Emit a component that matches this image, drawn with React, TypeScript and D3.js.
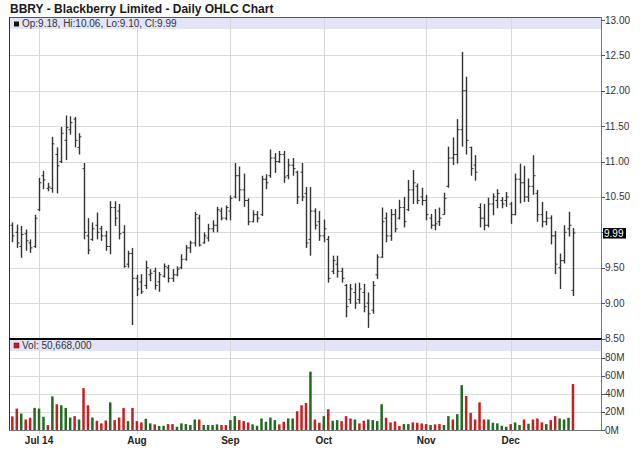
import * as d3 from 'd3';

// bar index of the first trading day of each month shown on the axis
const MONTH_TICKS = [
  { label: 'Jul 14', idx: 6 },
  { label: 'Aug', idx: 28 },
  { label: 'Sep', idx: 49 },
  { label: 'Oct', idx: 70 },
  { label: 'Nov', idx: 93 },
  { label: 'Dec', idx: 112 },
];

const PRICE_TICKS = [13, 12.5, 12, 11.5, 11, 10.5, 10, 9.5, 9, 8.5];
const VOL_TICKS = [0, 20, 40, 60, 80];

// daily OHLC, Jun 23 - Dec 19
const OPEN = [
  10.10, 10.00, 9.80, 9.98, 9.85, 9.80, 10.32, 10.80, 10.62, 10.62,
  11.10, 11.00, 11.30, 11.45, 11.60, 11.20, 10.90, 9.95, 9.90, 10.10,
  10.05, 9.95, 9.80, 10.35, 10.30, 10.00, 9.55, 9.70, 9.35, 9.30,
  9.25, 9.40, 9.45, 9.30, 9.38, 9.50, 9.35, 9.40, 9.50, 9.62,
  9.78, 9.85, 10.20, 9.85, 9.92, 10.05, 10.10, 10.30, 10.20, 10.30,
  10.50, 10.80, 10.60, 10.45, 10.15, 10.25, 10.25, 10.75, 10.80, 11.05,
  11.00, 11.10, 10.80, 10.95, 10.85, 10.85, 10.55, 9.90, 10.30, 10.15,
  9.95, 9.90, 9.45, 9.55, 9.45, 9.25, 9.05, 9.15, 9.05, 9.15,
  9.00, 8.90, 9.40, 9.65, 10.20, 9.95, 10.25, 10.20, 10.35, 10.32,
  10.60, 10.65, 10.50, 10.45, 10.20, 10.10, 10.15, 10.25, 10.65, 11.05,
  11.10, 11.45, 12.00, 11.20, 10.95, 10.35, 10.20, 10.10, 10.40, 10.45,
  10.45, 10.45, 10.40, 10.25, 10.75, 10.70, 10.50, 10.65, 10.55, 10.25,
  10.15, 10.20, 9.95, 9.50, 9.60, 10.05, 9.18,
];
const HIGH = [
  10.14, 10.11, 10.09, 10.04, 9.90, 10.25, 10.77, 10.87, 10.70, 11.35,
  11.20, 11.49, 11.65, 11.64, 11.63, 11.40, 10.98, 10.20, 10.14, 10.28,
  10.09, 10.02, 10.44, 10.44, 10.40, 10.10, 9.74, 9.78, 9.40, 9.41,
  9.60, 9.48, 9.50, 9.44, 9.56, 9.54, 9.48, 9.52, 9.69, 9.82,
  9.88, 10.29, 10.25, 10.00, 10.12, 10.17, 10.36, 10.35, 10.38, 10.52,
  10.98, 10.93, 10.83, 10.48, 10.31, 10.30, 10.80, 10.82, 11.17, 11.12,
  11.15, 11.15, 11.04, 11.05, 10.87, 10.98, 10.64, 10.64, 10.34, 10.30,
  10.18, 9.95, 9.67, 9.67, 9.50, 9.27, 9.27, 9.28, 9.29, 9.27,
  9.15, 9.31, 9.69, 10.35, 10.28, 10.33, 10.33, 10.46, 10.50, 10.74,
  10.88, 10.69, 10.63, 10.53, 10.26, 10.33, 10.35, 10.56, 11.21, 11.34,
  11.60, 12.55, 12.20, 11.21, 11.09, 10.41, 10.40, 10.49, 10.55, 10.61,
  10.50, 10.57, 10.43, 10.83, 10.97, 10.94, 10.76, 11.09, 10.60, 10.43,
  10.30, 10.24, 10.02, 9.70, 10.10, 10.29, 10.06,
];
const LOW = [
  9.86, 9.78, 9.64, 9.74, 9.71, 9.78, 10.30, 10.61, 10.58, 10.56,
  10.55, 10.98, 11.02, 11.38, 11.20, 11.10, 9.90, 9.69, 9.88, 9.90,
  9.88, 9.74, 9.69, 10.09, 9.90, 9.50, 9.50, 8.69, 9.10, 9.13,
  9.20, 9.31, 9.19, 9.16, 9.36, 9.29, 9.30, 9.38, 9.48, 9.60,
  9.71, 9.80, 9.80, 9.84, 9.87, 10.00, 10.00, 10.17, 10.17, 10.17,
  10.48, 10.44, 10.36, 10.10, 10.14, 10.14, 10.23, 10.61, 10.77, 10.84,
  10.98, 10.70, 10.75, 10.80, 10.40, 10.44, 9.78, 9.67, 10.04, 9.88,
  9.86, 9.29, 9.41, 9.36, 9.29, 8.80, 8.99, 8.92, 8.99, 8.87,
  8.65, 8.85, 9.34, 9.64, 9.86, 9.88, 10.00, 10.18, 10.07, 10.30,
  10.40, 10.40, 10.38, 10.17, 10.05, 10.03, 10.09, 10.25, 10.63, 10.95,
  10.97, 11.21, 11.10, 10.80, 10.73, 10.07, 10.03, 10.07, 10.24, 10.34,
  10.34, 10.36, 10.12, 10.24, 10.41, 10.43, 10.43, 10.53, 10.15, 10.07,
  10.10, 9.83, 9.41, 9.20, 9.56, 9.94, 9.10,
];
const CLOSE = [
  9.95, 9.85, 9.97, 9.88, 9.78, 10.20, 10.70, 10.74, 10.64, 11.25,
  10.94, 11.40, 11.48, 11.55, 11.30, 11.35, 10.00, 9.75, 10.05, 10.00,
  9.95, 9.80, 10.35, 10.20, 9.98, 9.52, 9.70, 9.35, 9.20, 9.16,
  9.50, 9.42, 9.25, 9.40, 9.52, 9.35, 9.40, 9.48, 9.62, 9.78,
  9.85, 10.25, 9.82, 9.95, 10.05, 10.10, 10.32, 10.20, 10.35, 10.48,
  10.80, 10.60, 10.45, 10.15, 10.25, 10.20, 10.75, 10.70, 11.05, 11.00,
  11.10, 10.78, 10.95, 10.90, 10.50, 10.50, 9.85, 10.30, 10.10, 9.95,
  10.05, 9.35, 9.60, 9.45, 9.35, 8.95, 9.20, 9.00, 9.20, 8.95,
  8.85, 9.25, 9.65, 10.15, 9.95, 10.25, 10.05, 10.35, 10.15, 10.60,
  10.70, 10.45, 10.45, 10.25, 10.10, 10.12, 10.20, 10.48, 11.05, 11.10,
  11.45, 12.00, 11.30, 10.90, 10.85, 10.20, 10.10, 10.40, 10.50, 10.55,
  10.40, 10.50, 10.25, 10.75, 10.70, 10.50, 10.65, 10.80, 10.25, 10.15,
  10.20, 9.95, 9.55, 9.60, 10.00, 10.10, 9.99,
];

// volume in millions, and colour of each volume bar (g = up, r = down)
const VOLUME = [
  15, 23.6, 18.2, 11.6, 13.5, 24.4, 23.6, 14.5, 5.5, 37.1,
  28.4, 27.3, 24.4, 13.8, 15.3, 11.6, 46.2, 27.3, 13.8, 10.2,
  7.3, 10.5, 30.5, 10.9, 13.8, 24.4, 9.8, 24.4, 9.8, 8.4,
  12.4, 7.3, 6.2, 4.4, 4.7, 6.5, 6.5, 3.6, 7.3, 6.5,
  5.5, 11.6, 11.6, 5.5, 5.5, 5.5, 6.2, 5.5, 5.5, 10.9,
  15.3, 10.9, 9.8, 8.4, 6.2, 4.7, 12.7, 9.1, 13.8, 10.9,
  6.2, 9.1, 12.7, 12.7, 20.7, 27.3, 29.8, 64.4, 11.6, 8,
  15.3, 22.9, 10.2, 10.9, 9.8, 15.3, 12.7, 11.6, 7.3, 10.2,
  11.6, 10.9, 9.8, 28.4, 13.5, 8.4, 9.5, 4.4, 6.5, 6.5,
  8.4, 8.0, 7.3, 6.5, 5.5, 6.2, 6.5, 5.5, 15.3, 11.6,
  17.5, 49.5, 37.5, 18.9, 11.6, 30.5, 11.6, 11.6, 8.0, 7.3,
  4.7, 3.6, 6.5, 8.4, 5.5, 11.6, 6.9, 11.6, 12.7, 8.4,
  6.5, 10.9, 15.3, 12.7, 11.6, 13.5, 50.668,
];
const VOL_DIR = (
  'rrgrrgggrg' + 'rgggrgrrgr' + 'rrgrrrgrrr' + 'ggrggrrggg' + 'ggrggggrrg' +
  'grrrgggggg' + 'rrggrrrgrr' + 'grggrrrgrr' + 'ggggrrrrgg' + 'rrrrgrrggr' +
  'ggrrrrrggg' + 'ggrggrgrrr' + 'grrgggr'
).split('');

const W = 640;
const H = 468;
const LEFT = 9;
const RIGHT = 601;
const FONT = "'Liberation Sans', Arial, sans-serif";

export default function App() {
  const last = OPEN.length - 1;

  const x = d3.scaleLinear().domain([-0.75, 132.3]).range([LEFT, RIGHT]);
  const y = d3.scaleLinear().domain([8.5, 13]).range([338.5, 20]);
  const yv = d3.scaleLinear().domain([0, 80]).range([430, 357.5]);

  const fmtVol = d3.format(',');
  const px = (i: number) => Math.round(x(i)) + 0.5;
  const lastY = y(CLOSE[last]);

  return (
    <svg width={W} height={H} style={{ position: 'absolute', left: 0, top: 0, background: '#fff' }}
      fontFamily={FONT}>
      <rect x={0} y={0} width={W} height={H} fill="#fff" />

      <text x={10} y={13} fontSize={12} fontWeight="bold" fill="#1a1a1a">
        BBRY - Blackberry Limited - Daily OHLC Chart
      </text>

      {/* legend bands */}
      <rect x={LEFT} y={18} width={RIGHT - LEFT} height={11} fill="#e4e4f8" />
      <rect x={LEFT} y={339.5} width={RIGHT - LEFT} height={11.5} fill="#e4e4f8" />

      {/* horizontal grid */}
      {PRICE_TICKS.filter(t => t > 8.5 && t < 13).map(t => (
        <line key={'pg' + t} x1={LEFT} x2={RIGHT} y1={Math.round(y(t)) + 0.5} y2={Math.round(y(t)) + 0.5}
          stroke="#dcdcdc" />
      ))}
      {VOL_TICKS.filter(t => t > 0).map(t => (
        <line key={'vg' + t} x1={LEFT} x2={RIGHT} y1={Math.round(yv(t)) + 0.5} y2={Math.round(yv(t)) + 0.5}
          stroke="#dcdcdc" />
      ))}

      {/* vertical month grid */}
      {MONTH_TICKS.map(m => (
        <line key={'mg' + m.label} x1={px(m.idx)} x2={px(m.idx)} y1={18} y2={434} stroke="#d8d8d8" />
      ))}

      {/* price OHLC bars */}
      <g stroke="#333" strokeWidth={1.4}>
        {OPEN.map((o, i) => {
          const cx = px(i);
          return (
            <g key={'b' + i}>
              <line x1={cx} x2={cx} y1={y(HIGH[i])} y2={y(LOW[i])} />
              <line x1={cx - 2} x2={cx} y1={y(o)} y2={y(o)} strokeWidth={1} />
              <line x1={cx} x2={cx + 2} y1={y(CLOSE[i])} y2={y(CLOSE[i])} strokeWidth={1} />
            </g>
          );
        })}
      </g>

      {/* volume bars */}
      {VOLUME.map((v, i) => (
        <rect key={'v' + i} x={x(i) - 1.25} width={2.5} y={yv(v)} height={yv(0) - yv(v)}
          fill={VOL_DIR[i] === 'g' ? '#1f6b1f' : '#c81e1e'} />
      ))}

      {/* frame */}
      <line x1={LEFT} x2={RIGHT} y1={17.5} y2={17.5} stroke="#555" />
      <line x1={LEFT + 0.5} x2={LEFT + 0.5} y1={17} y2={431} stroke="#333" />
      <line x1={RIGHT + 0.5} x2={RIGHT + 0.5} y1={17} y2={431} stroke="#777" />
      <line x1={LEFT} x2={RIGHT} y1={430.5} y2={430.5} stroke="#777" />
      <line x1={LEFT} x2={RIGHT + 1} y1={339} y2={339} stroke="#000" strokeWidth={2} />

      {/* legends */}
      <rect x={14} y={21.5} width={5} height={5} fill="#111" />
      <text x={22} y={27} fontSize={10} fill="#333">
        {`Op:${OPEN[last].toFixed(2)}, Hi:${HIGH[last].toFixed(2)}, Lo:${LOW[last].toFixed(2)}, Cl:${CLOSE[last].toFixed(2)}`}
      </text>
      <rect x={14} y={343} width={5} height={5} fill="#c81e1e" stroke="#600" strokeWidth={0.5} />
      <text x={22} y={349} fontSize={10} fill="#333">
        {`Vol: ${fmtVol(Math.round(VOLUME[last] * 1e6))}`}
      </text>

      {/* right price axis; the label under the last-price marker is hidden */}
      {PRICE_TICKS.map(t => (
        <g key={'pt' + t}>
          <line x1={RIGHT} x2={RIGHT + 4} y1={Math.round(y(t)) + 0.5} y2={Math.round(y(t)) + 0.5} stroke="#555" />
          {Math.abs(y(t) - lastY) > 10 && (
            <text x={RIGHT + 4} y={y(t)} dy="0.35em" fontSize={10} fill="#333">{t.toFixed(2)}</text>
          )}
        </g>
      ))}
      <rect x={RIGHT + 2} y={lastY - 5} width={23} height={10.5} fill="#000" />
      <text x={RIGHT + 3} y={lastY} dy="0.35em" fontSize={10} fill="#fff">
        {CLOSE[last].toFixed(2)}
      </text>

      {/* right volume axis */}
      {VOL_TICKS.map(t => (
        <g key={'vt' + t}>
          <line x1={RIGHT} x2={RIGHT + 4} y1={Math.round(yv(t)) + 0.5} y2={Math.round(yv(t)) + 0.5} stroke="#555" />
          <text x={RIGHT + 4} y={yv(t)} dy="0.35em" fontSize={10} fill="#333">{t}M</text>
        </g>
      ))}

      {/* month labels */}
      {MONTH_TICKS.map(m => (
        <text key={'ml' + m.label} x={x(m.idx)} y={444} textAnchor="middle" fontSize={10}
          fontWeight="bold" fill="#222">{m.label}</text>
      ))}
    </svg>
  );
}
